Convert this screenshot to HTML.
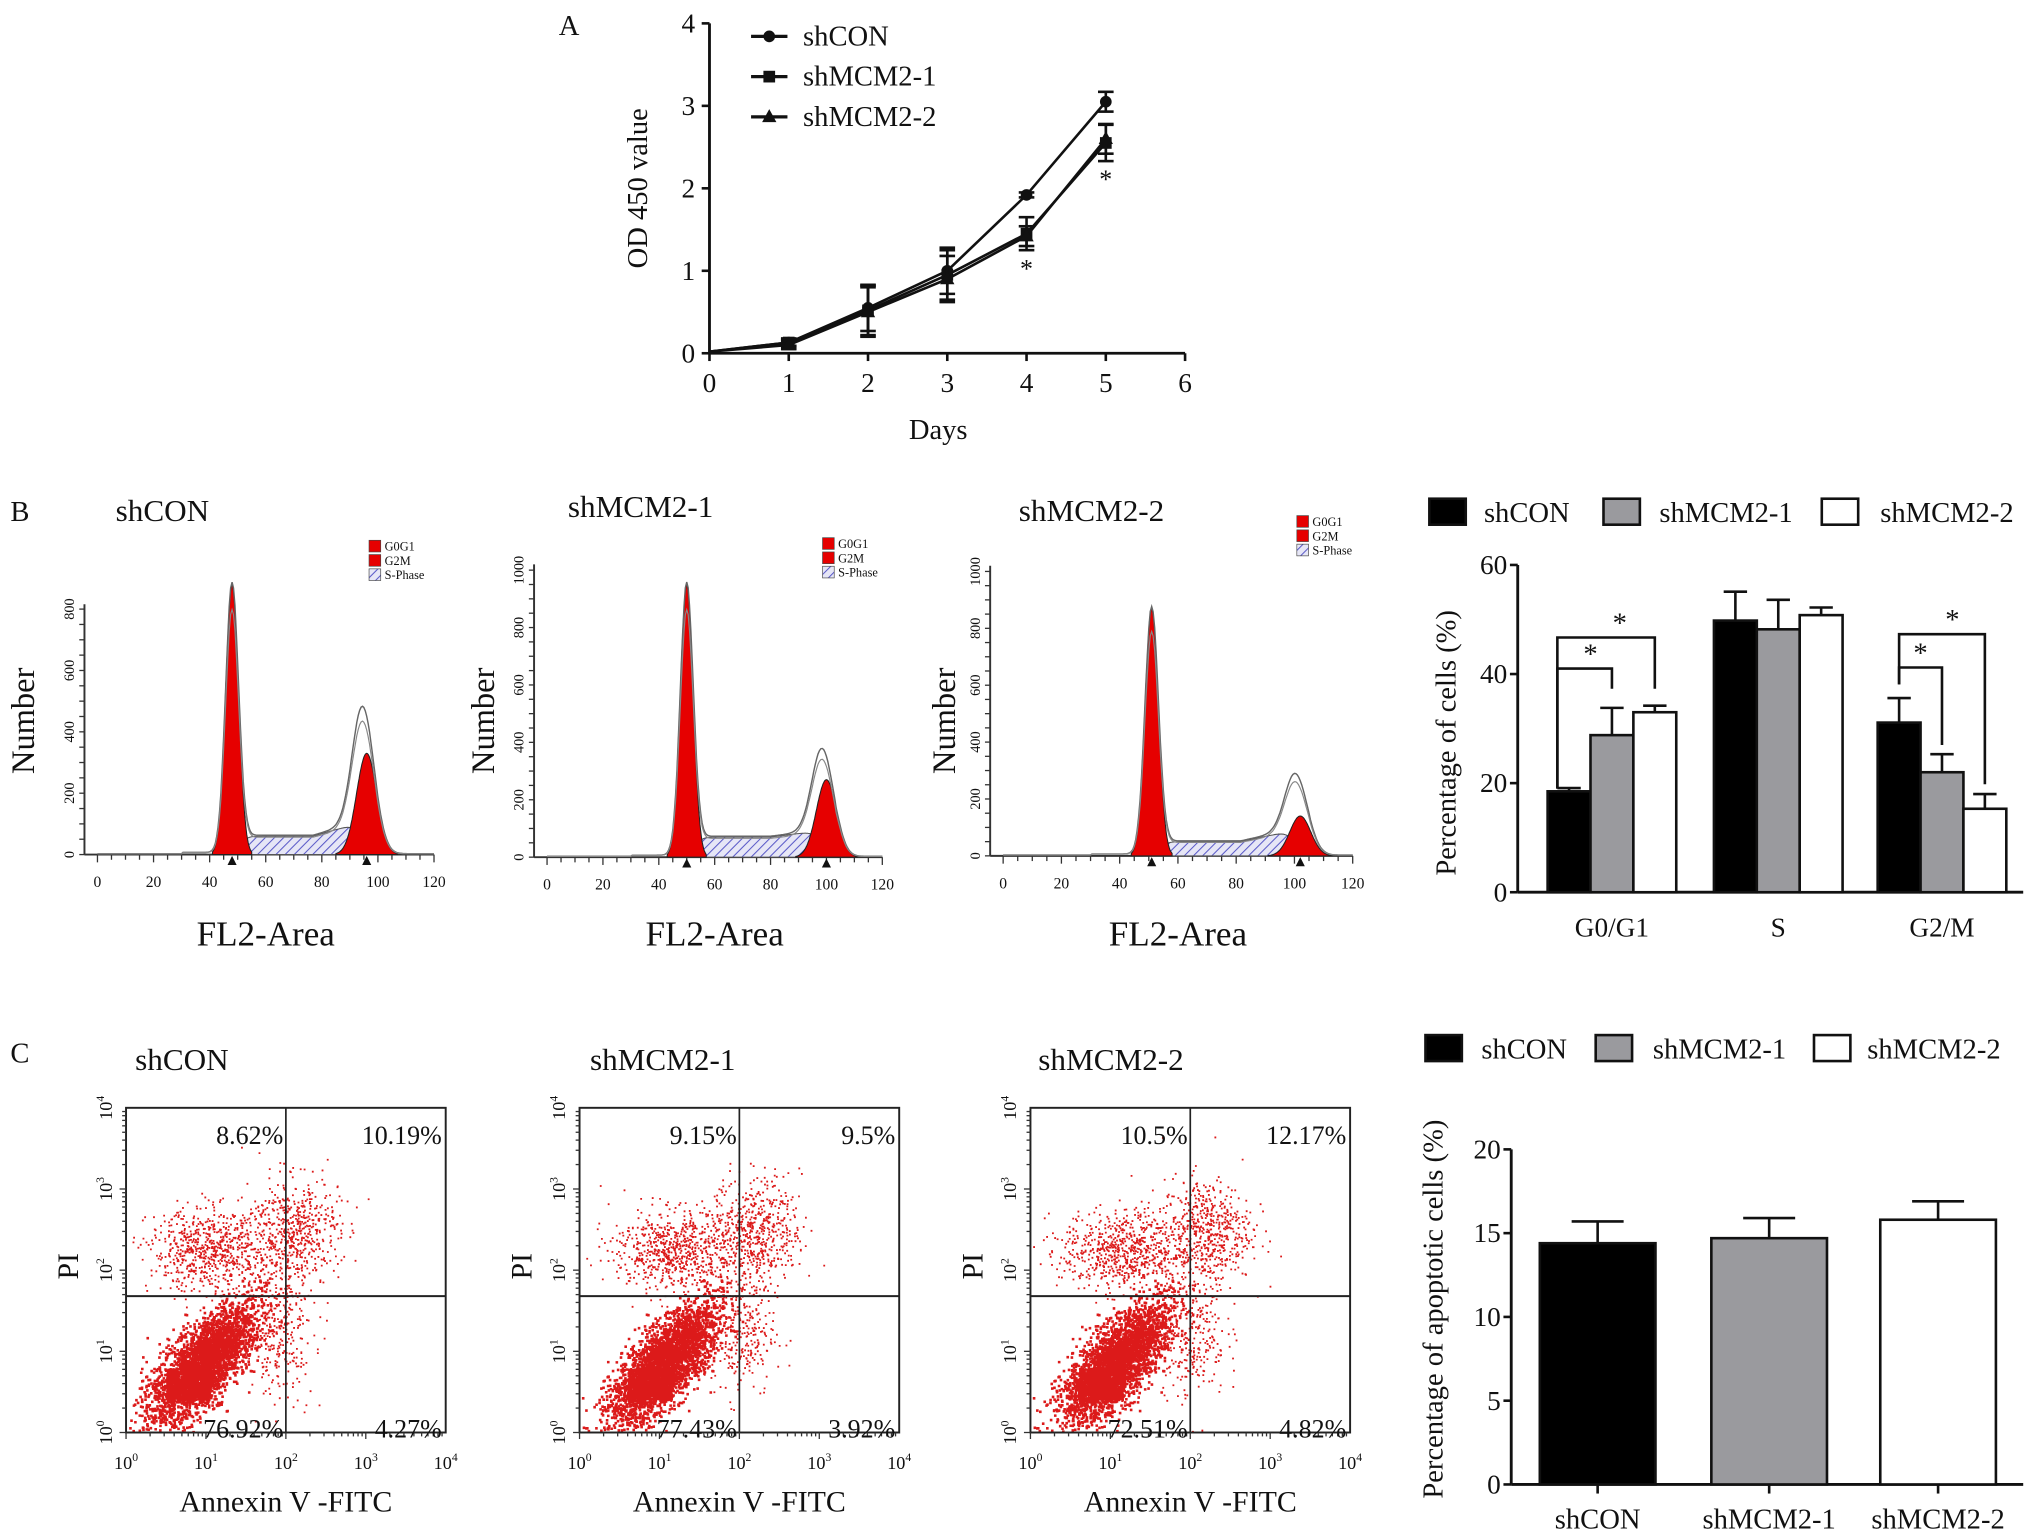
<!DOCTYPE html>
<html><head><meta charset="utf-8"><style>
html,body{margin:0;padding:0;background:#fff;}
svg{display:block;}
text{font-family:"Liberation Serif",serif;fill:#111;}
</style></head><body>
<svg id="fig" width="2031" height="1539" viewBox="0 0 1563 1185" preserveAspectRatio="none" xmlns="http://www.w3.org/2000/svg">
<defs>
<pattern id="hatch" width="5" height="5" patternUnits="userSpaceOnUse" patternTransform="rotate(45)">
<rect width="5" height="5" fill="#e6e6f6"/><line x1="0" y1="0" x2="0" y2="5" stroke="#5a5ac8" stroke-width="1.6"/>
</pattern>
</defs>
<g id="root"></g>
</svg>
<script>
// ---------- Panel A data ----------
const daysA = [0,1,2,3,4,5];
const odCON = [0.02,0.13,0.55,1.0,1.92,3.05];
const odM1 = [0.02,0.13,0.52,0.95,1.45,2.55];
const odM2 = [0.02,0.10,0.50,0.90,1.42,2.60];
const errCON = [0,0.04,0.28,0.28,0.03,0.12];
const errM1 = [0,0.05,0.30,0.30,0.20,0.22];
const errM2 = [0,0.05,0.30,0.28,0.12,0.18];
const ticksAx = [0,1,2,3,4,5,6];
const ticksAy = [0,1,2,3,4];
// ---------- Panel B bar data ----------
const phases = ["G0/G1","S","G2/M"];
const cycCON = [18.5,49.8,31.1];
const cycM1 = [28.8,48.2,22.0];
const cycM2 = [33.0,50.8,15.3];
const cycErrCON = [0.6,5.3,4.5];
const cycErrM1 = [5.0,5.4,3.3];
const cycErrM2 = [1.2,1.4,2.7];
const ticksBy = [0,20,40,60];
// ---------- Histograms ----------
const histTitles = ["shCON","shMCM2-1","shMCM2-2"];
const g1Pos = [48,50,51];
const g1Height = [880,950,870];
const g2Pos = [96,100,102];
const g2Height = [330,270,140];
const g2Outline = [440,340,250];
const sLow = [60,70,50];
const sHigh = [110,95,95];
const histYTicks = [[0,200,400,600,800],[0,200,400,600,800,1000],[0,200,400,600,800,1000]];
const histXTicks = [0,20,40,60,80,100,120];
// ---------- Apoptosis ----------
const apoGroups = ["shCON","shMCM2-1","shMCM2-2"];
const apoVals = [14.4,14.7,15.8];
const apoErr = [1.3,1.2,1.1];
const ticksCy = [0,5,10,15,20];
const quadUL = ["8.62%","9.15%","10.5%"];
const quadUR = ["10.19%","9.5%","12.17%"];
const quadLL = ["76.92%","77.43%","72.51%"];
const quadLR = ["4.27%","3.92%","4.82%"];

const NS="http://www.w3.org/2000/svg";
const root=document.getElementById('root');
function el(tag,attrs,parent,txt){const e=document.createElementNS(NS,tag);for(const k in attrs)e.setAttribute(k,attrs[k]);if(txt!==undefined)e.textContent=txt;(parent||root).appendChild(e);return e;}
function grp(name,parent){const g=el('g',{},parent);return g;}
function txt(name,x,y,s,size,parent,extra){const t=el('text',Object.assign({x:x,y:y,'font-size':size},extra||{}),parent,s);return t;}
function line(x1,y1,x2,y2,w,parent,col){return el('line',{x1,y1,x2,y2,stroke:col||'#111','stroke-width':w||2},parent);}

// ================= Panel A =================
(function(){
const g=grp('panel-a-line-chart');
txt('panel-label-a',430,27,'A',22,g);
const X=d=>546+d*61, Y=v=>272-v*63.5;
line(546,Y(4),546,272,2.2,g);line(546,272,912,272,2.2,g);
ticksAy.forEach(v=>{line(540,Y(v),546,Y(v),2,g);txt('y-tick-label',535,Y(v)+7,String(v),21,g,{'text-anchor':'end'});});
ticksAx.forEach(v=>{line(X(v),272,X(v),278,2,g);txt('x-tick-label',X(v),302,String(v),21,g,{'text-anchor':'middle'});});
txt('x-axis-title',722,338,'Days',22,g,{'text-anchor':'middle'});
txt('y-axis-title',0,0,'OD 450 value',22,g,{'text-anchor':'middle',transform:'translate(498,145) rotate(-90)'});
const series=[[odCON,errCON,'circle','shCON'],[odM1,errM1,'square','shMCM2-1'],[odM2,errM2,'triangle','shMCM2-2']];
function marker(type,x,y,p){if(type==='circle')return el('circle',{cx:x,cy:y,r:4.5,fill:'#111'},p);if(type==='square')return el('rect',{x:x-4.5,y:y-4.5,width:9,height:9,fill:'#111'},p);return el('polygon',{points:`${x},${y-6} ${x-5.5},${y+4} ${x+5.5},${y+4}`,fill:'#111'},p);}
series.forEach((s,i)=>{
 const sg=grp('series-'+s[3],g);
 const pts=daysA.map((d,j)=>X(d)+','+Y(s[0][j])).join(' ');
 el('polyline',{points:pts,fill:'none',stroke:'#111','stroke-width':2},sg);
 daysA.forEach((d,j)=>{const e=s[1][j];if(e>0){line(X(d),Y(s[0][j]-e),X(d),Y(s[0][j]+e),2,sg);line(X(d)-6,Y(s[0][j]+e),X(d)+6,Y(s[0][j]+e),2,sg);line(X(d)-6,Y(s[0][j]-e),X(d)+6,Y(s[0][j]-e),2,sg);}
  if(d>0){const m=marker(s[2],X(d),Y(s[0][j]),sg);}});
 const ly=28+i*31;
 const lg=grp('legend-entry-'+s[3],g);
 line(578,ly,606,ly,2.5,lg);marker(s[2],592,ly,lg);
 txt('legend-label',618,ly+7,s[3],22,lg);
});
txt('significance-star',X(4),Y(1.0)+5,'*',20,g,{'text-anchor':'middle',fill:'#444'});
txt('significance-star',X(5),Y(2.08)+5,'*',20,g,{'text-anchor':'middle',fill:'#444'});
})();

// ================= Panel B histograms =================
txt('panel-label-b',8,401,'B',22);
const histX0=[75,421,772], histX120=[334,679,1041], histBase=[658,660,659], histTop=[469,439,440];
const histTitleX=[125,493,840], histTitleY=[401,398,401];
const legX=[284,633,998], legY=[423,421,404], numX=[26,380,735];
function gauss(x,m,s){return Math.exp(-0.5*((x-m)/s)**2);}
for(let h=0;h<3;h++){
 const g=grp('histogram-'+histTitles[h]);
 const x0=histX0[h],x1=histX120[h],b=histBase[h];
 const X=c=>x0+(x1-x0)*c/120;
 const yTopVal=histYTicks[h][histYTicks[h].length-1];
 const Y=v=>b-(b-histTop[h])*v/yTopVal;
 txt('histogram-title',histTitleX[h],histTitleY[h],histTitles[h],24,g,{'text-anchor':'middle'});
 line(x0-10,Y(yTopVal*1.02),x0-10,b,1.5,g,'#333');line(x0-10,b,x1,b,1.5,g,'#333');
 for(let v=0;v<=yTopVal;v+=50){line(x0-14,Y(v),x0-10,Y(v),1,g,'#333');}
 histYTicks[h].forEach(v=>txt('y-tick-label',0,0,String(v),11,g,{'text-anchor':'middle',transform:`translate(${x0-18},${Y(v)}) rotate(-90)`,fill:'#444'}));
 for(let c=0;c<=120;c+=5){line(X(c),b,X(c),b+(c%20===0?6:4),1,g,'#333');}
 histXTicks.forEach(c=>txt('x-tick-label',X(c),b+25,String(c),12,g,{'text-anchor':'middle',fill:'#444'}));
 txt('x-axis-title',(x0+x1)/2,728,'FL2-Area',27,g,{'text-anchor':'middle'});
 txt('y-axis-title',0,0,'Number',25,g,{'text-anchor':'middle',transform:`translate(${numX[h]},555) rotate(-90)`});
 const m1=g1Pos[h],m2=g2Pos[h];
 const sF=c=>{if(c<m1-2||c>m2+3)return 0;const t=(c-m1)/(m2-m1);const base=sLow[h]+(sHigh[h]-sLow[h])*Math.max(0,t-0.6)/0.4;const e1=1/(1+Math.exp(-(c-m1-3)/1.2));const e2=1/(1+Math.exp((c-m2+2)/1.5));return base*Math.min(e1,e2);};
 const g1F=c=>g1Height[h]*gauss(c,m1,2.3), g2F=c=>g2Height[h]*gauss(c,m2,3.6), g2o=c=>g2Outline[h]*gauss(c,m2-1,3.8);
 function area(f,a,z){let d=`M${X(a)},${b}`;for(let c=a;c<=z;c+=0.25)d+=` L${X(c).toFixed(1)},${Y(f(c)).toFixed(1)}`;return d+` L${X(z)},${b} Z`;}
 const sp=el('path',{d:area(sF,m1-3,m2+4),fill:'url(#hatch)',stroke:'#555','stroke-width':0.8},g);
 const r1=el('path',{d:area(g1F,m1-7,m1+7),fill:'#e60000',stroke:'#222','stroke-width':0.8},g);
 const r2=el('path',{d:area(g2F,m2-11,m2+11),fill:'#e60000',stroke:'#222','stroke-width':0.8},g);
 let d='',d2='';for(let c=0;c<=120;c+=0.5){const tot=g1F(c)+sF(c)+Math.max(g2o(c),g2F(c))+(c>30&&c<m1?4:0)+3;d+=(c?' L':'M')+X(c).toFixed(1)+','+Y(tot).toFixed(1);d2+=(c?' L':'M')+X(c).toFixed(1)+','+Y(tot*0.9).toFixed(1);}
 el('path',{d:d,fill:'none',stroke:'#666','stroke-width':1.1},g);el('path',{d:d2,fill:'none',stroke:'#888','stroke-width':0.9},g);
 [m1,m2].forEach(c=>el('polygon',{points:`${X(c)},${b+1} ${X(c)-3.5},${b+8} ${X(c)+3.5},${b+8}`,fill:'#111'},g));
 const lg=grp('histogram-legend',g);
 [['G0G1','#e60000'],['G2M','#e60000'],['S-Phase','url(#hatch)']].forEach((it,k)=>{el('rect',{x:legX[h],y:legY[h]-7+k*11,width:9,height:9,fill:it[1],stroke:'#444','stroke-width':0.5},lg);txt('legend-label',legX[h]+12,legY[h]+1+k*11,it[0],9.5,lg,{fill:'#444'});});
}

function legend3(g,y,rects,texts,names){const fills=['#000','#9a9a9e','#fff'];rects.forEach((x,i)=>{const lg=grp('legend-entry-'+names[i],g);el('rect',{x:x,y:y-11,width:28,height:20,fill:fills[i],stroke:'#111','stroke-width':2},lg);txt('legend-label',texts[i],y+7,names[i],22,lg);});}
const barFills=['#000','#9a9a9e','#fff'];

// ================= Panel B bar chart =================
(function(){
const g=grp('panel-b-bar-chart');
legend3(g,395,[1100,1234,1402],[1142,1277,1447],['shCON','shMCM2-1','shMCM2-2']);
const ax=1168,y0=687,sc=(687-435)/60;const Y=v=>y0-v*sc;
line(ax,Y(60),ax,y0,2.2,g);line(ax,y0,1557,y0,2.2,g);
ticksBy.forEach(v=>{line(ax-6,Y(v),ax,Y(v),2,g);txt('y-tick-label',ax-8,Y(v)+7,String(v),21,g,{'text-anchor':'end'});});
txt('y-axis-title',0,0,'Percentage of cells (%)',22,g,{'text-anchor':'middle',transform:'translate(1120,572) rotate(-90)'});
const gx=[1191,1319,1445],bw=33;
const series=[[cycCON,cycErrCON,'shCON'],[cycM1,cycErrM1,'shMCM2-1'],[cycM2,cycErrM2,'shMCM2-2']];
phases.forEach((p,i)=>{
 txt('x-tick-label',gx[i]+bw*1.5,721,p,21,g,{'text-anchor':'middle'});
 series.forEach((s,k)=>{const x=gx[i]+k*bw;const v=s[0][i],e=s[1][i];
  line(x+bw/2,Y(v),x+bw/2,Y(v+e),2,g);line(x+bw/2-9,Y(v+e),x+bw/2+9,Y(v+e),2,g);
  const r=el('rect',{x:x,y:Y(v),width:bw,height:y0-Y(v),fill:barFills[k],stroke:'#111','stroke-width':2},g);
  });
});
function bracket(xa,ya,xb,yb,top,sx){const p=el('polyline',{points:`${xa},${Y(ya)} ${xa},${Y(top)} ${xb},${Y(top)} ${xb},${Y(yb)}`,fill:'none',stroke:'#111','stroke-width':2},g);txt('significance-star',sx,Y(top)-4,'*',22,g,{'text-anchor':'middle',fill:'#444'});}
const c=(i,k)=>gx[i]+k*bw+bw/2;
bracket(c(0,0)-9,cycCON[0]+0.5,c(0,1),cycM1[0]+8.5,41,(c(0,0)+c(0,1))/2);
bracket(c(0,0)-9,cycCON[0]+0.5,c(0,2),cycM2[0]+4.3,46.7,(c(0,0)+c(0,2))/2+6);
bracket(c(2,0),cycCON[2]+7,c(2,1),cycM1[2]+5,41.2,(c(2,0)+c(2,1))/2);
bracket(c(2,0),cycCON[2]+7,c(2,2),cycM2[2]+4.5,47.3,(c(2,0)+c(2,2))/2+8);
})();

// ================= Panel C dot plots =================
txt('panel-label-c',8,818,'C',22);
const dpL=[97,446,793],dpTitleX=[140,510,855];
let seed=12345;function rnd(){seed=(seed*1103515245+12345)%2147483648;return seed/2147483648;}
function nrm(){let u=rnd()||1e-9,v=rnd();return Math.sqrt(-2*Math.log(u))*Math.cos(2*Math.PI*v);}
for(let h=0;h<3;h++){
 const g=grp('dot-plot-'+histTitles[h]);
 const L=dpL[h],R=L+246,T=853,B=1103;
 const X=dec=>L+(R-L)*dec/4, Y=dec=>B-(B-T)*dec/4;
 txt('dot-plot-title',dpTitleX[h],824,histTitles[h],24,g,{'text-anchor':'middle'});
 let dots='';const add=(dx,dy,s)=>{if(dx<0.02||dx>3.98||dy<0.02||dy>3.98)return;dots+=`M${X(dx).toFixed(1)},${Y(dy).toFixed(1)}h${s}v${s}h-${s}z`;};
 const off=[0,0.1,0.1][h];
 for(let i=0;i<3200;i++){const t=nrm(),u=nrm();add(0.95+off+0.3*t+0.13*u,0.85+0.34*t-0.13*u,2);}
 for(let i=0;i<900;i++){const t=nrm(),u=nrm();add(0.5+off+0.55*(rnd()),0.4+0.4*rnd(),1.6);}
 for(let i=0;i<700;i++){add(1.05+off+0.38*nrm(),2.25+0.25*nrm(),1.4);}
 for(let i=0;i<550;i++){add(2.1+off+0.28*nrm(),2.5+0.32*nrm(),1.4);}
 for(let i=0;i<300;i++){add(1.9+off+0.22*nrm(),1.25+0.4*nrm(),1.4);}
 const dp=el('path',{d:dots,fill:'#dc1a1a'},g);
 el('rect',{x:L,y:T,width:R-L,height:B-T,fill:'none',stroke:'#222','stroke-width':1.5},g);
 line(X(2),T,X(2),B,1.3,g,'#222');line(L,Y(1.68),R,Y(1.68),1.5,g,'#222');
 for(let dcd=0;dcd<4;dcd++){for(let k=1;k<10;k++){const f=dcd+Math.log10(k);line(X(f),B,X(f),B+(k===1?5:3),1,g,'#333');line(L-(k===1?5:3),Y(f),L,Y(f),1,g,'#333');}}
 for(let dcd=0;dcd<=4;dcd++){
  const tx=txt('x-tick-label',X(dcd),B+28,'10',14,g,{'text-anchor':'middle',fill:'#444'});el('tspan',{dy:-6,'font-size':9},tx,String(dcd));
  const ty=txt('y-tick-label',0,0,'10',14,g,{'text-anchor':'middle',fill:'#444',transform:`translate(${L-11},${Y(dcd)}) rotate(-90)`});el('tspan',{dy:-6,'font-size':9},ty,String(dcd));
 }
 txt('x-axis-title',(L+R)/2,1164,'Annexin V -FITC',23,g,{'text-anchor':'middle'});
 txt('y-axis-title',0,0,'PI',23,g,{'text-anchor':'middle',transform:`translate(${L-37},975) rotate(-90)`});
 txt('quadrant-upper-left',X(2)-2,881,quadUL[h],20,g,{'text-anchor':'end'});
 txt('quadrant-upper-right',R-3,881,quadUR[h],20,g,{'text-anchor':'end'});
 txt('quadrant-lower-left',X(2)-2,1107,quadLL[h],20,g,{'text-anchor':'end'});
 txt('quadrant-lower-right',R-3,1107,quadLR[h],20,g,{'text-anchor':'end'});
}

// ================= Panel C bar chart =================
(function(){
const g=grp('panel-c-bar-chart');
legend3(g,808,[1097,1228,1396],[1140,1272,1437],['shCON','shMCM2-1','shMCM2-2']);
const ax=1163,y0=1143,sc=(1143-885)/20;const Y=v=>y0-v*sc;
line(ax,Y(20),ax,y0,2.2,g);line(ax,y0,1557,y0,2.2,g);
ticksCy.forEach(v=>{line(ax-6,Y(v),ax,Y(v),2,g);txt('y-tick-label',ax-8,Y(v)+7,String(v),21,g,{'text-anchor':'end'});});
txt('y-axis-title',0,0,'Percentage of apoptotic cells (%)',22,g,{'text-anchor':'middle',transform:'translate(1110,1008) rotate(-90)'});
const bx=[1185,1317,1447],bw=89;
apoGroups.forEach((n,i)=>{const v=apoVals[i],e=apoErr[i],cx=bx[i]+bw/2;
 line(cx,Y(v),cx,Y(v+e),2,g);line(cx-20,Y(v+e),cx+20,Y(v+e),2,g);
 const r=el('rect',{x:bx[i],y:Y(v),width:bw,height:y0-Y(v),fill:barFills[i],stroke:'#111','stroke-width':2},g);
 
 line(cx,y0,cx,y0+7,2,g);
 txt('x-tick-label',cx,1177,n,22,g,{'text-anchor':'middle'});
});
})();
</script>
</body></html>
